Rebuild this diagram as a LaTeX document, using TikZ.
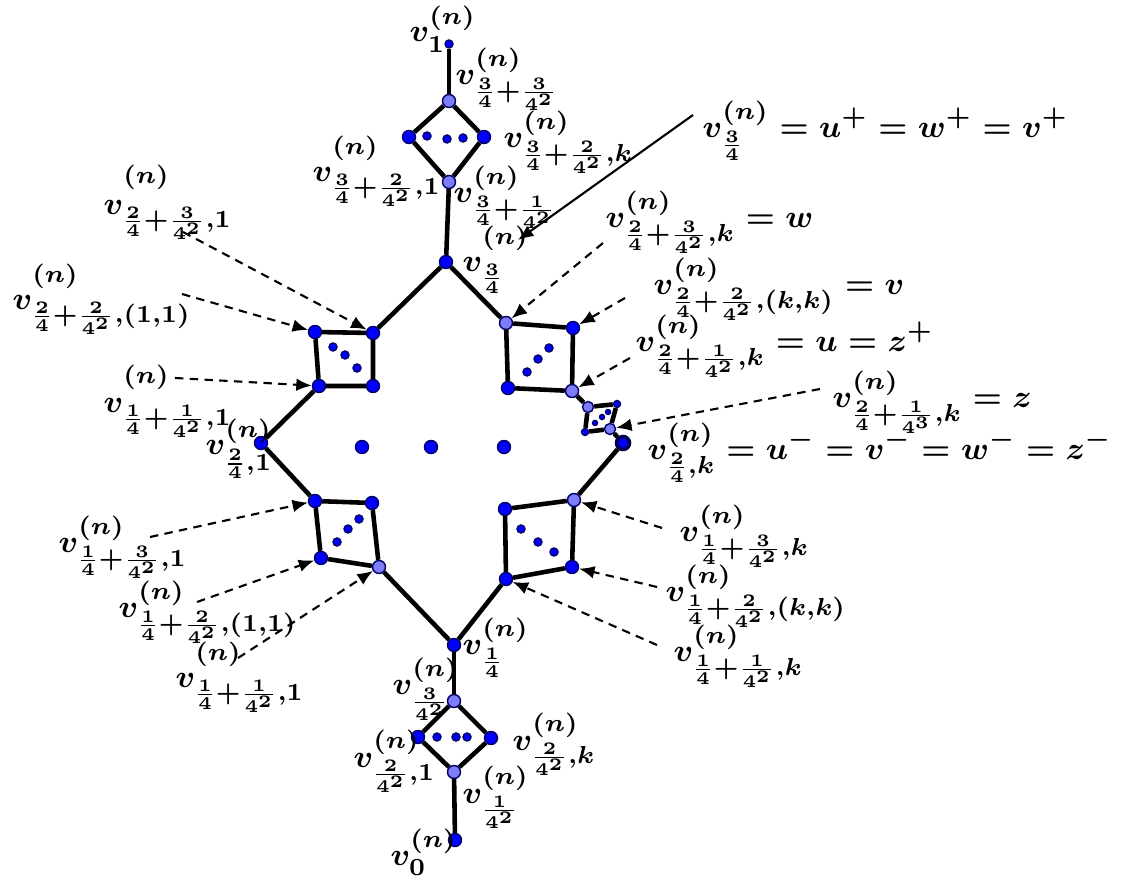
\documentclass[tikz,border=0pt]{standalone}
\usepackage{amsmath}
\usepackage{amssymb}
\usetikzlibrary{arrows.meta}
\definecolor{lightnode}{RGB}{125,125,250}
% label v^{(n)}_{...}, optional argument lifts the (n)
\newcommand{\vn}[2][1.5pt]{v^{\raisebox{#1}{$\scriptstyle(n)$}}_{#2}}

\begin{document}
\begin{tikzpicture}[x=0.01cm,y=-0.01cm,
        dot/.style={circle,fill=blue,draw=blue!40!black,inner sep=0pt,minimum size=0.13cm},
        ldot/.style={dot,fill=lightnode},
        sdot/.style={dot,minimum size=0.08cm},
        tdot/.style={dot,minimum size=0.05cm},
        bond/.style={line width=1.3pt},
        pointer/.style={dash pattern=on 2.4pt off 1.8pt,semithick,-{Latex[length=4.4pt,width=3.6pt]}},
        lab/.style={font=\fontsize{9.4}{11.3}\selectfont\boldmath,inner sep=0pt,anchor=base west}]
        \useasboundingbox (0,0) rectangle (1137,880);
        % top branch
        \node[sdot] (t1) at (449,44) {};
        \node[ldot] (t2) at (449,101) {};
        \node[dot] (tl) at (409,137) {};
        \node[dot] (tr) at (484,137) {};
        \node[ldot] (tb) at (449,182) {};
        \node[sdot] (td1) at (427,136) {};
        \node[sdot] (td2) at (447,139) {};
        \node[sdot] (td3) at (463,138) {};
        \node[dot] (q34) at (446,262) {};
        % square top left
        \node[dot] (a1) at (315,332) {};
        \node[dot] (a2) at (373,333) {};
        \node[dot] (a3) at (319,386) {};
        \node[dot] (a4) at (373,386) {};
        \node[sdot] (ad1) at (333,347) {};
        \node[sdot] (ad2) at (345,355) {};
        \node[sdot] (ad3) at (357,368) {};
        % square top right
        \node[ldot] (b1) at (506,323) {};
        \node[dot] (b2) at (573,328) {};
        \node[dot] (b3) at (508,388) {};
        \node[ldot] (b4) at (572,391) {};
        \node[sdot] (bd1) at (527,372) {};
        \node[sdot] (bd2) at (538,359) {};
        \node[sdot] (bd3) at (549,348) {};
        % small diamond
        \node[ldot,minimum size=0.11cm] (s1) at (588,407) {};
        \node[dot,minimum size=0.07cm] (s2) at (617,404) {};
        \node[ldot,minimum size=0.11cm] (s3) at (610,429) {};
        \node[dot,minimum size=0.07cm] (s4) at (585,432) {};
        \node[tdot] (sd1) at (595,423) {};
        \node[tdot] (sd2) at (602,417) {};
        \node[tdot] (sd3) at (608,412) {};
        \node[dot,draw=blue!30!black,line width=1pt] (zk) at (623,443) {};
        % middle
        \node[dot] (q24) at (261,443) {};
        \node[dot] (m1) at (362,447) {};
        \node[dot] (m2) at (431,447) {};
        \node[dot] (m3) at (504,447) {};
        % square bottom left
        \node[dot] (c1) at (315,501) {};
        \node[dot] (c2) at (372,503) {};
        \node[dot] (c3) at (321,558) {};
        \node[ldot] (c4) at (379,567) {};
        \node[sdot] (cd1) at (337,542) {};
        \node[sdot] (cd2) at (348,529) {};
        \node[sdot] (cd3) at (359,519) {};
        % square bottom right
        \node[dot] (d1) at (505,509) {};
        \node[ldot] (d2) at (574,500) {};
        \node[dot] (d3) at (506,579) {};
        \node[dot] (d4) at (572,567) {};
        \node[sdot] (dd1) at (521,529) {};
        \node[sdot] (dd2) at (538,542) {};
        \node[sdot] (dd3) at (554,552) {};
        % bottom branch
        \node[dot] (q14) at (454,645) {};
        \node[ldot] (e1) at (454,701) {};
        \node[dot] (el) at (418,737) {};
        \node[dot] (er) at (491,738) {};
        \node[ldot] (eb) at (454,772) {};
        \node[sdot] (ed1) at (437,737) {};
        \node[sdot] (ed2) at (456,737) {};
        \node[sdot] (ed3) at (467,737) {};
        \node[dot] (v0) at (455,840) {};

        % edges
        \draw[bond] (t1) -- (t2);
        \draw[bond] (t2) -- (tl) -- (tb) -- (tr) -- (t2);
        \draw[bond] (tb) -- (q34);
        \draw[bond] (q34) -- (a2);
        \draw[bond] (q34) -- (b1);
        \draw[bond] (a1) -- (a2) -- (a4) -- (a3) -- (a1);
        \draw[bond] (a3) -- (q24);
        \draw[bond] (q24) -- (c1);
        \draw[bond] (c1) -- (c2) -- (c4) -- (c3) -- (c1);
        \draw[bond] (c4) -- (q14);
        \draw[bond] (q14) -- (d3);
        \draw[bond] (d1) -- (d2) -- (d4) -- (d3) -- (d1);
        \draw[bond] (d2) -- (zk);
        \draw[bond] (b1) -- (b2) -- (b4) -- (b3) -- (b1);
        \draw[bond] (b4) -- (s1);
        \draw[bond] (s1) -- (s2) -- (s3) -- (s4) -- (s1);
        \draw[bond] (s3) -- (zk);
        \draw[bond] (q14) -- (e1);
        \draw[bond] (e1) -- (el) -- (eb) -- (er) -- (e1);
        \draw[bond] (eb) -- (v0);

        % labels on the branches
        \node[lab] (lt1) at (409,42) {$v_1^{(n)}$};
        \node[lab] (lt2) at (455,85) {$\vn{\frac34+\frac3{4^2}}$};
        \node[lab] (ltr) at (503,148) {$\vn{\frac34+\frac2{4^2},k}$};
        \node[lab] (ltl) at (312,182) {$\vn[4pt]{\frac34+\frac2{4^2},1}$};
        \node[lab] (ltb) at (453,203) {$\vn{\frac34+\frac1{4^2}}$};
        \node[lab] (lq34) at (462,272) {$\vn[4pt]{\frac34}$};
        \node[lab] (lq24) at (205,455) {$\vn[0pt]{\frac24,1}$};
        \node[lab] (lq14) at (462,655) {$\vn{\frac14}$};
        \node[lab] (le1) at (392,695) {$\vn{\frac3{4^2}}$};
        \node[lab] (lel) at (353,767) {$\vn{\frac2{4^2},1}$};
        \node[lab] (ler) at (512,750) {$\vn{\frac2{4^2},k}$};
        \node[lab] (leb) at (462,803) {$\vn{\frac1{4^2}}$};
        \node[lab] (lv0) at (390,865) {$v_0^{(n)}$};
        % labels on the left
        \node[lab] (la2) at (103,215) {$\vn[5pt]{\frac24+\frac3{4^2},1}$};
        \node[lab] (la1) at (12,310) {$\vn[4pt]{\frac24+\frac2{4^2},(1,1)}$};
        \node[lab] (la3) at (103,413) {$\vn[4.5pt]{\frac14+\frac1{4^2},1}$};
        \node[lab] (lc1) at (58,553) {$\vn{\frac14+\frac3{4^2},1}$};
        \node[lab] (lc3) at (118,618) {$\vn{\frac14+\frac2{4^2},(1,1)}$};
        \node[lab] (lc4) at (175,688) {$\vn[4pt]{\frac14+\frac1{4^2},1}$};
        % labels on the right
        \node[lab] (lplus) at (702,138) {$\vn{\frac34} = u^+ = w^+ = v^+$};
        \node[lab] (lb1) at (605,228) {$\vn{\frac24+\frac3{4^2},k} = w$};
        \node[lab] (lb2) at (653,295) {$\vn{\frac24+\frac2{4^2},(k,k)} = v$};
        \node[lab] (lb4) at (635,352) {$\vn{\frac24+\frac1{4^2},k} = u = z^+$};
        \node[lab] (ls3) at (832,408) {$\vn{\frac24+\frac1{4^3},k} = z$};
        \node[lab] (lzk) at (647,460) {$\vn{\frac24,k} = u^- = v^- = w^- = z^-$};
        \node[lab] (ld2) at (679,542) {$\vn{\frac14+\frac3{4^2},k}$};
        \node[lab] (ld4) at (665,602) {$\vn{\frac14+\frac2{4^2},(k,k)}$};
        \node[lab] (ld3) at (673,662) {$\vn{\frac14+\frac1{4^2},k}$};

        % pointers
        \coordinate (p1) at (183,232);
        \coordinate (p2) at (182,294);
        \coordinate (p3) at (175,378);
        \coordinate (p4) at (150,537);
        \coordinate (p5) at (197,602);
        \coordinate (p6) at (238,658);
        \coordinate (p7) at (603,243);
        \coordinate (p8) at (625,298);
        \coordinate (p9) at (630,358);
        \coordinate (p10) at (820,389);
        \coordinate (p11) at (662,528);
        \coordinate (p12) at (657,587);
        \coordinate (p13) at (657,645);
        \coordinate (p14) at (693,115);
        \coordinate (tip) at (518,240);
        \draw[pointer] (p1) -- (a2);
        \draw[pointer] (p2) -- (a1);
        \draw[pointer] (p3) -- (a3);
        \draw[pointer] (p4) -- (c1);
        \draw[pointer] (p5) -- (c3);
        \draw[pointer] (p6) -- (c4);
        \draw[pointer] (p7) -- (b1);
        \draw[pointer] (p8) -- (b2);
        \draw[pointer] (p9) -- (b4);
        \draw[pointer] (p10) -- (s3);
        \draw[pointer] (p11) -- (d2);
        \draw[pointer] (p12) -- (d4);
        \draw[pointer] (p13) -- (d3);
        \draw[semithick,-{Latex[length=4.4pt,width=3.6pt]}] (p14) -- (tip);
\end{tikzpicture}
\end{document}
